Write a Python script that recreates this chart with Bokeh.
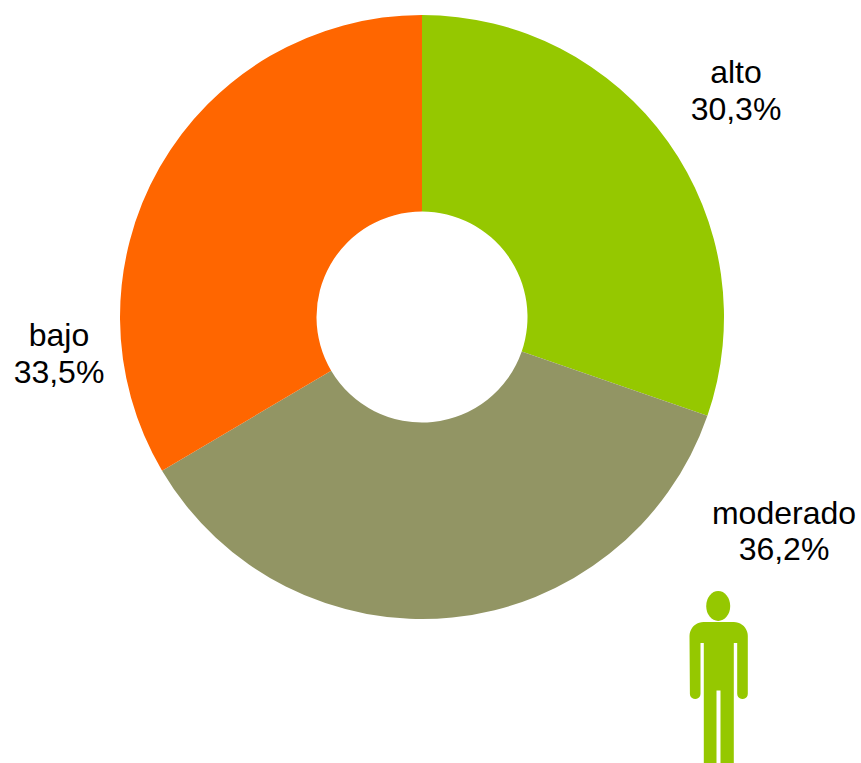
import math
from bokeh.plotting import figure
from bokeh.models import ColumnDataSource, Range1d
from bokeh.core.properties import value
from bokeh.embed import file_html
from bokeh.resources import INLINE

categories = ["alto", "moderado", "bajo"]
shares = [30.3, 36.2, 33.5]
share_labels = ["30,3%", "36,2%", "33,5%"]
colors = ["#95C800", "#929564", "#FF6600"]

W, H = 861, 763
def X(px): return px
def Y(py): return H - py

p = figure(width=W, height=H, output_backend="svg", toolbar_location=None,
           x_range=Range1d(0, W), y_range=Range1d(0, H),
           min_border=0, outline_line_color=None, background_fill_color="white")
p.axis.visible = False
p.grid.visible = False

# donut
total = sum(shares)
starts, ends = [], []
a = math.pi / 2
for s in shares:
    b = a - 2 * math.pi * s / total
    starts.append(b)
    ends.append(a)
    a = b
src = ColumnDataSource(dict(cat=categories, start=starts, end=ends, color=colors))
p.annular_wedge(x=X(421.5), y=Y(316.5), inner_radius=105.5, outer_radius=302,
                start_angle="start", end_angle="end", color="color",
                line_color=None, source=src)

# labels
label_pos = {"alto": (735.5, 71.5, 108.5), "moderado": (783.5, 512.5, 548.5), "bajo": (58.5, 334.5, 371.5)}
xs, ys, txt = [], [], []
for c, lab in zip(categories, share_labels):
    lx, y1, y2 = label_pos[c]
    xs += [X(lx), X(lx)]
    ys += [Y(y1), Y(y2)]
    txt += [c, lab]
p.text(x=xs, y=ys, text=txt, text_font=value("Liberation Sans"), text_font_size="32px",
       text_align="center", text_baseline="middle", text_color="#000000")

# person icon
def arc(cx, cy, r, a0, a1, n=10):
    return [(cx + r * math.cos(math.radians(a0 + (a1 - a0) * i / n)),
             cy + r * math.sin(math.radians(a0 + (a1 - a0) * i / n))) for i in range(n + 1)]

green = "#95C800"
p.ellipse(x=X(717.7), y=Y(605.5), width=24, height=30, color=green, line_color=None)
outline = []
outline += arc(703, 635.5, 14, 180, 270)        # left shoulder
outline += arc(733.3, 635.5, 14, 270, 360)      # right shoulder
outline += arc(742, 693.3, 5.3, 0, 180)         # right arm end
outline += [(736.7, 642.5), (733.3, 642.5), (733.3, 780), (720, 780), (720, 690),
            (716, 690), (716, 780), (703.3, 780), (703.3, 642.5), (700, 642.5)]
outline += arc(694.7, 693.3, 5.3, 0, 180)       # left arm end
p.patch(x=[X(q[0]) for q in outline], y=[Y(q[1]) for q in outline], color=green, line_color=None)

open("out.html", "w").write(file_html(p, INLINE))
